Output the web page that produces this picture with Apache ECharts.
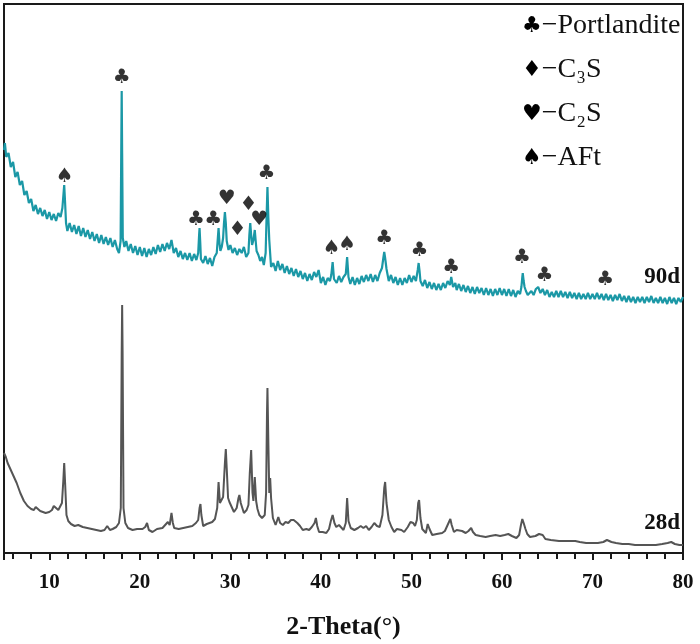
<!DOCTYPE html>
<html>
<head>
<meta charset="utf-8">
<script src="https://cdn.jsdelivr.net/npm/echarts@6/dist/echarts.min.js"></script>
<style>
  html, body { margin: 0; padding: 0; background: #fff; }
  #xrd_chart { width: 700px; height: 644px; }
</style>
</head>
<body>
<div id="xrd_chart"></div>
<script>
// 2-theta / intensity (a.u.)
var pattern_28d = [
    [5.0,100],[5.2,96],[5.4,90],[5.6,86],[5.8,82],[6.0,78],[6.2,74],[6.4,70],[6.6,65],[6.8,60],[7.0,56],[7.2,52],[7.4,50],[7.6,47],[7.8,45],[8.0,44],[8.3,43],[8.5,46],[8.7,44],[9.0,42],[9.3,41],[9.6,40],[10.0,41],[10.3,43],[10.5,47],[10.7,45],[11.0,43],[11.2,44],[11.4,50],[11.55,72],[11.65,90],[11.75,70],[11.9,38],[12.1,32],[12.4,29],[12.8,27],[13.2,28],[13.7,26],[14.2,25],[14.7,24],[15.2,23],[15.7,22],[16.1,23],[16.4,27],[16.7,23],[17.0,24],[17.4,26],[17.7,30],[17.9,45],[18.0,200],[18.05,248],[18.1,200],[18.2,45],[18.4,30],[18.7,25],[19.2,23],[19.7,24],[20.3,24],[20.6,26],[20.8,30],[21.0,23],[21.4,21],[21.9,24],[22.5,25],[22.8,28],[23.1,31],[23.3,28],[23.5,40],[23.65,30],[23.8,25],[24.3,24],[24.8,25],[25.3,26],[25.8,27],[26.2,30],[26.45,33],[26.6,45],[26.7,49],[26.8,38],[27.0,27],[27.4,29],[27.7,30],[28.0,31],[28.3,34],[28.55,45],[28.7,71],[28.85,50],[29.0,48],[29.2,56],[29.4,90],[29.5,104],[29.6,85],[29.75,55],[29.9,51],[30.1,50],[30.4,41],[30.7,45],[30.9,55],[31.0,58],[31.15,50],[31.5,40],[31.8,43],[32.0,48],[32.15,80],[32.3,103],[32.45,60],[32.55,52],[32.7,76],[32.85,52],[33.0,44],[33.2,38],[33.5,35],[33.8,38],[33.95,60],[34.05,140],[34.1,165],[34.2,110],[34.3,60],[34.4,75],[34.5,55],[34.7,35],[35.0,28],[35.3,36],[35.5,30],[35.8,28],[36.1,31],[36.4,30],[36.7,33],[37.0,33],[37.4,30],[37.7,27],[38.0,23],[38.4,24],[38.7,23],[39.0,26],[39.3,30],[39.45,35],[39.6,27],[39.8,21],[40.2,21],[40.6,20],[40.9,24],[41.1,32],[41.3,38],[41.5,30],[41.7,26],[42.0,28],[42.2,30],[42.5,23],[42.75,30],[42.9,55],[43.05,32],[43.3,25],[43.7,23],[44.1,25],[44.4,27],[44.7,25],[45.0,27],[45.3,23],[45.6,26],[45.9,30],[46.2,27],[46.5,26],[46.8,38],[47.0,65],[47.1,71],[47.25,50],[47.5,33],[47.8,26],[48.1,21],[48.4,24],[48.6,26],[48.9,23],[49.2,21],[49.6,26],[49.9,31],[50.2,30],[50.4,27],[50.6,33],[50.75,50],[50.85,53],[51.0,35],[51.2,24],[51.6,20],[51.8,29],[52.0,24],[52.3,18],[52.8,19],[53.4,20],[53.7,22],[53.9,26],[54.1,27],[54.3,34],[54.45,28],[54.7,21],[55.0,23],[55.2,25],[55.6,22],[56.0,20],[56.3,22],[56.6,25],[56.8,21],[57.1,18],[57.6,17],[58.2,16],[58.7,17],[59.3,18],[59.8,17],[60.3,18],[60.7,19],[61.1,17],[61.6,15],[61.9,18],[62.1,28],[62.25,34],[62.4,30],[62.6,24],[62.8,19],[63.1,16],[63.3,15],[63.7,17],[64.1,19],[64.3,20],[64.5,18],[64.8,14],[65.4,13],[66.3,12],[67.2,12],[68.1,12],[68.6,11],[69.3,10],[69.9,10],[70.6,10],[71.2,11],[71.6,13],[71.8,14],[72.1,11],[72.6,10],[73.3,9],[74.0,9],[74.7,8],[75.5,8],[76.3,8],[77.0,8],[77.7,9],[78.3,10],[78.7,11],[79.1,9],[79.6,8],[80.0,8]
];

var pattern_90d = [
    [5.0,403],[5.1,410],[5.25,396],[5.5,400],[5.75,386],[6.0,391],[6.25,376],[6.5,381],[6.75,368],[7.0,372],[7.25,358],[7.5,362],[7.75,350],[8.0,354],[8.25,342],[8.5,348],[8.75,339],[9.0,345],[9.25,337],[9.5,343],[9.75,334],[10.0,341],[10.25,333],[10.5,339],[10.75,332],[11.0,340],[11.25,336],[11.45,345],[11.58,360],[11.65,368],[11.75,350],[11.85,330],[12.0,322],[12.25,330],[12.5,321],[12.75,328],[13.0,319],[13.25,327],[13.5,317],[13.75,325],[14.0,316],[14.25,323],[14.5,314],[14.75,321],[15.0,312],[15.25,319],[15.5,310],[15.75,318],[16.0,309],[16.25,316],[16.5,308],[16.75,315],[17.0,306],[17.25,313],[17.5,304],[17.7,300],[17.88,312],[17.95,400],[18.0,462],[18.05,400],[18.12,315],[18.3,306],[18.5,312],[18.75,302],[19.0,309],[19.25,300],[19.5,307],[19.75,298],[20.0,306],[20.25,297],[20.5,305],[20.75,296],[21.0,304],[21.25,298],[21.5,306],[21.75,299],[22.0,308],[22.25,301],[22.5,309],[22.75,302],[23.0,310],[23.25,304],[23.5,313],[23.75,300],[24.0,305],[24.25,296],[24.5,302],[24.75,294],[25.0,300],[25.25,293],[25.5,300],[25.75,292],[26.0,299],[26.25,293],[26.45,300],[26.55,318],[26.6,325],[26.68,310],[26.75,294],[27.0,290],[27.25,297],[27.5,289],[27.75,295],[28.0,287],[28.25,296],[28.5,300],[28.62,315],[28.7,325],[28.8,310],[28.9,302],[29.05,306],[29.2,315],[29.3,330],[29.4,341],[29.5,330],[29.6,312],[29.8,303],[30.0,308],[30.25,300],[30.5,305],[30.75,298],[31.0,304],[31.25,300],[31.5,306],[31.75,296],[32.0,300],[32.1,318],[32.2,330],[32.3,318],[32.4,308],[32.55,313],[32.7,323],[32.8,312],[32.9,302],[33.1,298],[33.3,292],[33.5,296],[33.7,288],[33.9,300],[34.0,335],[34.1,366],[34.2,335],[34.3,313],[34.5,286],[34.75,290],[35.0,282],[35.25,292],[35.5,283],[35.75,289],[36.0,280],[36.25,287],[36.5,279],[36.75,285],[37.0,277],[37.25,284],[37.5,276],[37.75,282],[38.0,274],[38.25,280],[38.5,272],[38.75,279],[39.0,273],[39.25,281],[39.5,276],[39.75,283],[40.0,270],[40.25,276],[40.5,268],[40.75,275],[41.0,272],[41.15,278],[41.3,291],[41.45,274],[41.75,270],[42.0,277],[42.25,271],[42.5,276],[42.75,279],[42.9,296],[43.05,276],[43.25,269],[43.5,276],[43.75,268],[44.0,275],[44.25,269],[44.5,277],[44.75,271],[45.0,278],[45.25,272],[45.5,279],[45.75,271],[46.0,278],[46.25,272],[46.5,280],[46.75,285],[46.9,295],[47.0,301],[47.1,295],[47.25,284],[47.5,272],[47.75,278],[48.0,270],[48.25,276],[48.5,268],[48.75,275],[49.0,268],[49.25,275],[49.5,270],[49.75,278],[50.0,271],[50.25,277],[50.5,272],[50.7,283],[50.8,290],[50.9,282],[51.0,272],[51.25,267],[51.5,273],[51.75,265],[52.0,271],[52.25,264],[52.5,270],[52.75,263],[53.0,269],[53.25,263],[53.5,270],[53.75,265],[54.0,272],[54.25,268],[54.4,276],[54.6,266],[54.85,270],[55.0,263],[55.25,269],[55.5,262],[55.75,268],[56.0,261],[56.25,267],[56.5,260],[56.75,266],[57.0,259],[57.25,266],[57.5,260],[57.75,265],[58.0,258],[58.25,265],[58.5,258],[58.75,264],[59.0,257],[59.25,264],[59.5,258],[59.75,265],[60.0,258],[60.25,264],[60.5,257],[60.75,264],[61.0,257],[61.25,263],[61.5,256],[61.75,262],[62.0,259],[62.15,266],[62.25,276],[62.3,280],[62.4,272],[62.5,266],[62.65,262],[62.85,258],[63.0,256],[63.25,262],[63.5,258],[63.75,264],[64.0,266],[64.25,260],[64.5,264],[64.75,258],[65.0,263],[65.25,256],[65.5,261],[65.75,256],[66.0,262],[66.25,256],[66.5,262],[66.75,256],[67.0,261],[67.25,255],[67.5,261],[67.75,255],[68.0,260],[68.25,254],[68.5,260],[68.75,254],[69.0,259],[69.25,254],[69.5,260],[69.75,254],[70.0,259],[70.25,254],[70.5,260],[70.75,254],[71.0,259],[71.25,253],[71.5,259],[71.75,253],[72.0,258],[72.25,252],[72.5,258],[72.75,253],[73.0,259],[73.25,252],[73.5,257],[73.75,251],[74.0,257],[74.25,251],[74.5,256],[74.75,250],[75.0,256],[75.25,251],[75.5,256],[75.75,250],[76.0,256],[76.25,251],[76.5,257],[76.75,250],[77.0,255],[77.25,250],[77.5,256],[77.75,250],[78.0,255],[78.25,249],[78.5,256],[78.75,250],[79.0,255],[79.25,249],[79.5,255],[79.75,251],[80.0,256]
];

// phase marks over the 90d pattern
var peakTheta  = [11.7, 18.0, 26.2, 28.1, 29.6, 30.8, 32.0, 33.2, 34.0, 41.2, 42.9, 47.0, 50.9, 54.4, 62.2, 64.7, 71.4];
var peakHeight = [376, 475, 333, 333, 354, 323, 348, 333, 379, 304, 308, 314, 302, 285, 295, 277, 273];
var peakPhase  = ['♠','♣','♣','♣','♥','♦','♦','♥','♣','♠','♠','♣','♣','♣','♣','♣','♣'];

var legendSymbols = ['♣', '♦', '♥', '♠'];
var legendNames = ['−Portlandite', '−C₃S', '−C₂S', '−AFt'];

var serif = '"Times New Roman", "Liberation Serif", serif';
var suitFont = '"DejaVu Sans", sans-serif';

var peakData = peakTheta.map(function (t, i) {
    return [t, peakHeight[i], peakPhase[i]];
});

var legendGraphics = legendSymbols.map(function (s, i) {
    return {
        type: 'text',
        left: 522,
        top: 12 + i * 44,
        style: {
            text: '{s|' + s + '}{t|' + legendNames[i] + '}',
            rich: {
                s: { fontFamily: suitFont, fontSize: 22, fill: '#000' },
                t: { fontFamily: serif, fontSize: 28, fill: '#111' }
            }
        }
    };
});

var xrd_option = {
    animation: false,
    backgroundColor: '#fff',
    grid: {
        left: 4, right: 17, top: 4, bottom: 91,
        outerBoundsMode: 'none',
        show: true,
        borderColor: '#1a1a1a',
        borderWidth: 2
    },
    xAxis: {
        type: 'value',
        min: 5,
        max: 80,
        splitNumber: 8,
        name: '2-Theta(°)',
        nameLocation: 'middle',
        nameGap: 61,
        nameTextStyle: { fontFamily: serif, fontWeight: 'bold', fontSize: 26, color: '#111' },
        axisLine: { lineStyle: { color: '#1a1a1a', width: 2 } },
        axisTick: { inside: false, length: 7, lineStyle: { color: '#1a1a1a', width: 2 } },
        minorTick: { show: true, splitNumber: 5, length: 6, lineStyle: { color: '#1a1a1a', width: 2 } },
        axisLabel: { showMinLabel: false, fontFamily: serif, fontWeight: 'bold', fontSize: 21, color: '#111', margin: 19 },
        splitLine: { show: false },
        minorSplitLine: { show: false }
    },
    yAxis: {
        type: 'value',
        min: 0,
        max: 549,
        show: false,
        splitLine: { show: false }
    },
    series: [
        {
            name: '28d',
            type: 'line',
            data: pattern_28d,
            showSymbol: false,
            lineStyle: { color: '#555555', width: 2 }
        },
        {
            name: '90d',
            type: 'line',
            data: pattern_90d,
            showSymbol: false,
            lineStyle: { color: '#1b98a6', width: 2.2 }
        },
        {
            name: 'phases',
            type: 'scatter',
            data: peakData,
            symbolSize: 1,
            itemStyle: { color: 'rgba(0,0,0,0)' },
            z: 5,
            label: {
                show: true,
                position: 'inside',
                formatter: function (p) { return p.data[2]; },
                fontFamily: suitFont,
                fontSize: 20,
                color: '#000'
            }
        }
    ],
    graphic: legendGraphics.concat([
        {
            type: 'text', right: 20, top: 266,
            style: { text: '90d', fontFamily: serif, fontWeight: 'bold', fontSize: 23, fill: '#111' }
        },
        {
            type: 'text', right: 20, top: 512,
            style: { text: '28d', fontFamily: serif, fontWeight: 'bold', fontSize: 23, fill: '#111' }
        }
    ])
};

var xrd_chart = echarts.init(document.getElementById('xrd_chart'));
xrd_chart.setOption(xrd_option);
</script>
</body>
</html>
